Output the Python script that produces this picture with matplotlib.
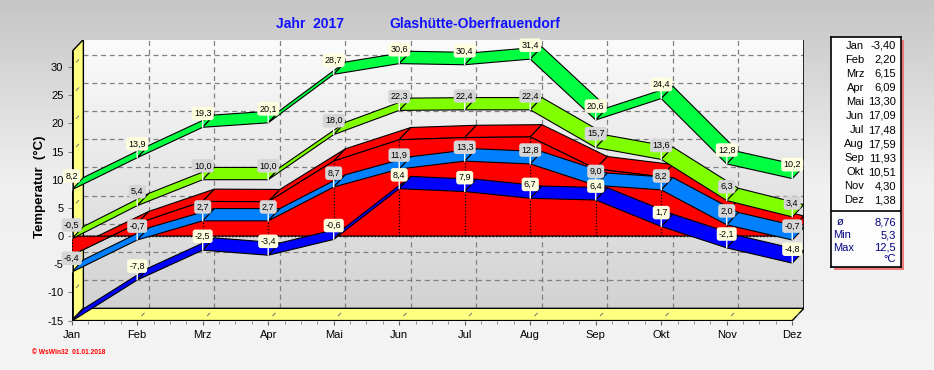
import numpy as np
import matplotlib.pyplot as plt
from matplotlib.patches import Polygon, Rectangle

plt.rcParams['font.family'] = ['Liberation Sans', 'DejaVu Sans']

# Monatswerte 2017
months = ['Jan', 'Feb', 'Mrz', 'Apr', 'Mai', 'Jun', 'Jul', 'Aug', 'Sep', 'Okt', 'Nov', 'Dez']
abs_max = [8.2, 13.9, 19.3, 20.1, 28.7, 30.6, 30.4, 31.4, 20.6, 24.4, 12.8, 10.2]
mean_max = [-0.5, 5.4, 10.0, 10.0, 18.0, 22.3, 22.4, 22.4, 15.7, 13.6, 6.3, 3.4]
mean_temp = [-3.40, 2.20, 6.15, 6.09, 13.30, 17.09, 17.48, 17.59, 11.93, 10.51, 4.30, 1.38]
mean_min = [-6.4, -0.7, 2.7, 2.7, 8.7, 11.9, 13.3, 12.8, 9.0, 8.2, 2.0, -0.7]
abs_min = [-15.1, -7.8, -2.5, -3.4, -0.6, 8.4, 7.9, 6.7, 6.4, 1.7, -2.1, -4.8]
summary_labels = ['ø', 'Min', 'Max']
summary_values = [8.76, 5.3, 12.5]

# 3D look: depth offset of the back plane
DX = 0.178
DY = 2.18
YMIN = -15
YTOP = 32.7
x = np.arange(len(months))
xend = len(months) - 1


def fmt(v, n=1):
    return f'{v:.{n}f}'.replace('.', ',')


def ribbon(ax, vals, color, z):
    for i in range(len(vals) - 1):
        pts = [(x[i], vals[i]), (x[i + 1], vals[i + 1]),
               (x[i + 1] + DX, vals[i + 1] + DY), (x[i] + DX, vals[i] + DY)]
        ax.add_patch(Polygon(pts, closed=True, facecolor=color, edgecolor='black',
                             lw=0.8, zorder=z, joinstyle='miter'))


def labels(ax, vals, face):
    for i, v in enumerate(vals):
        ax.annotate(fmt(v), xy=(x[i], v), xytext=(0, 10), textcoords='offset points',
                    ha='center', va='center', fontsize=6.5, zorder=20,
                    bbox=dict(boxstyle='round,pad=0.25,rounding_size=0.3',
                              facecolor=face, edgecolor='none'),
                    arrowprops=dict(arrowstyle='-', color='white', lw=1,
                                    shrinkA=0, shrinkB=0))


fig = plt.figure(figsize=(9.34, 3.70), dpi=100)

# background gradient
bg = fig.add_axes([0, 0, 1, 1], zorder=-10)
grad = np.linspace(0, 1, 256).reshape(-1, 1)
bg.imshow(grad, cmap=plt.matplotlib.colors.LinearSegmentedColormap.from_list(
    'bg', ['#f4f4f4', '#f0f0f0', '#c6c6c6']), aspect='auto', extent=[0, 1, 0, 1])
bg.set_xlim(0, 1)
bg.set_ylim(1, 0)
bg.axis('off')

ax = fig.add_axes([71.7 / 934, 1 - 320.6 / 370, 732.2 / 934, 281.1 / 370])
ax.set_xlim(0, xend + DX)
ax.set_ylim(YMIN, YTOP + DY)
ax.patch.set_alpha(0)
for s in ax.spines.values():
    s.set_visible(False)

# back wall
wall_cmap = plt.matplotlib.colors.LinearSegmentedColormap.from_list('w', ['#fbfbfb', '#d2d2d2'])
ax.imshow(grad, cmap=wall_cmap, aspect='auto', zorder=0,
          extent=[DX, xend + DX, YMIN + DY, YTOP + DY], origin='upper')

# grid on back wall
for v in range(-10, 31, 5):
    ax.plot([DX, xend + DX], [v + DY, v + DY], color='#808080', lw=0.9, ls=(0, (4, 3)), zorder=1)
for i in x[1:-1]:
    ax.plot([i + DX, i + DX], [YMIN + DY, YTOP + DY], color='#808080', lw=0.9, ls=(0, (4, 3)), zorder=1)

# left wall and floor
ax.add_patch(Polygon([(0, YMIN), (DX, YMIN + DY), (DX, YTOP + DY), (0, YTOP)],
                     facecolor='#ffff80', edgecolor='black', lw=1, zorder=2))
ax.add_patch(Polygon([(0, YMIN), (xend, YMIN), (xend + DX, YMIN + DY), (DX, YMIN + DY)],
                     facecolor='#ffff80', edgecolor='black', lw=1, zorder=2))
for v in range(-15, 31, 5):
    ax.plot([DX * 0.4, DX * 0.6], [v + DY * 0.4, v + DY * 0.6], color='#707070', lw=0.7, zorder=3)
for i in x:
    ax.plot([i + DX * 0.4, i + DX * 0.6], [YMIN + DY * 0.4, YMIN + DY * 0.6],
            color='#707070', lw=0.7, zorder=3)
ax.plot([DX, xend + DX, xend + DX], [YTOP + DY, YTOP + DY, YMIN + DY], color='black', lw=1.2, zorder=3)
ax.plot([0, 0], [YMIN, YTOP], color='black', lw=2, zorder=3)
ax.plot([0, xend], [YMIN, YMIN], color='black', lw=2.2, zorder=3, solid_capstyle='butt')

# mean temperature as 3D area
for i in range(len(mean_temp) - 1):
    pts = [(x[i], mean_temp[i]), (x[i + 1], mean_temp[i + 1]),
           (x[i + 1] + DX, mean_temp[i + 1] + DY), (x[i] + DX, mean_temp[i] + DY)]
    ax.add_patch(Polygon(pts, facecolor='#ff0000', edgecolor='black', lw=0.8, zorder=4))
ax.add_patch(Polygon([(xend, 0), (xend, mean_temp[-1]), (xend + DX, mean_temp[-1] + DY), (xend + DX, DY)],
                     facecolor='#ff0000', edgecolor='black', lw=0.8, zorder=4))
front = [(0, 0)] + list(zip(x, mean_temp)) + [(xend, 0)]
ax.add_patch(Polygon(front, facecolor='#ff0000', edgecolor='black', lw=0.8, zorder=5))
ax.plot([0, xend], [0, 0], color='black', lw=1, ls=(0, (1, 1.5)), zorder=6)
for i, v in enumerate(mean_temp):
    ax.plot([x[i], x[i]], [0, v], color='black', lw=0.9, ls=(0, (1, 1.5)), zorder=6)

ribbon(ax, mean_min, '#0080ff', 7)
ribbon(ax, abs_min, '#0000ff', 8)
ribbon(ax, mean_max, '#80ff00', 9)
ribbon(ax, abs_max, '#00ff40', 10)

labels(ax, mean_min, '#d6d6d6')
labels(ax, abs_min, '#ffffe0')
labels(ax, mean_max, '#d6d6d6')
labels(ax, abs_max, '#ffffe0')

# axes ticks
ax.set_xticks(x)
ax.set_xticklabels(months, fontsize=8)
ax.set_xticks(np.arange(0, xend + 0.01, 0.25), minor=True)
ax.set_yticks(range(-15, 31, 5))
ax.set_yticklabels([str(v) for v in range(-15, 31, 5)], fontsize=8)
ax.tick_params(axis='x', which='major', length=3, width=0.8, color='#606060', pad=4)
ax.tick_params(axis='x', which='minor', length=2, width=0.6, color='#808080')
ax.tick_params(axis='y', length=3, width=0.8, color='#808080', pad=3)

fig.text(40 / 934, 1 - 187 / 370, 'Temperatur  (°C)', rotation=90, ha='center', va='center',
         fontsize=9.5, fontweight='bold')
fig.text(309.5 / 934, 1 - 24 / 370, 'Jahr  2017', ha='center', va='center',
         fontsize=10, fontweight='bold', color='#1010ff')
fig.text(475 / 934, 1 - 24 / 370, 'Glashütte-Oberfrauendorf', ha='center', va='center',
         fontsize=10, fontweight='bold', color='#1010ff')
fig.text(32 / 934, 1 - 352 / 370, '© WsWin32  01.01.2018', ha='left', va='center',
         fontsize=4.8, fontweight='bold', color='#ff0000')

# legend box with monthly means
fig.patches.append(Rectangle((833.7 / 934, 1 - 270.3 / 370), 70 / 934, 230 / 370,
                             transform=fig.transFigure, facecolor='#f06060', edgecolor='none',
                             alpha=0.8, zorder=5))
lg = fig.add_axes([830.7 / 934, 1 - 267.3 / 370, 70 / 934, 230 / 370], zorder=6)
lg.set_xlim(0, 70)
lg.set_ylim(230, 0)
lg.set_xticks([])
lg.set_yticks([])
lg.set_facecolor('#fdfdfd')
for s in lg.spines.values():
    s.set_linewidth(1.2)
lg.axhline(173.7, color='black', lw=1.2)
for i, (m, v) in enumerate(zip(months, mean_temp)):
    yy = 8.4 + 14.05 * i
    lg.text(33.6, yy, m, ha='right', va='center', fontsize=8)
    lg.text(65.3, yy, fmt(v, 2), ha='right', va='center', fontsize=8)
sum_x = [6, 2.7, 2.7]
sum_fmt = [2, 1, 1]
for i, (lab, v) in enumerate(zip(summary_labels, summary_values)):
    yy = 185 + 12.7 * i
    lg.text(sum_x[i], yy, lab, ha='left', va='center', fontsize=8, color='#000080')
    lg.text(65.3, yy, fmt(v, sum_fmt[i]), ha='right', va='center', fontsize=8, color='#000080')
lg.text(65.3, 222, '°C', ha='right', va='center', fontsize=8, color='#000080')

fig.savefig('out.png', dpi=100)
